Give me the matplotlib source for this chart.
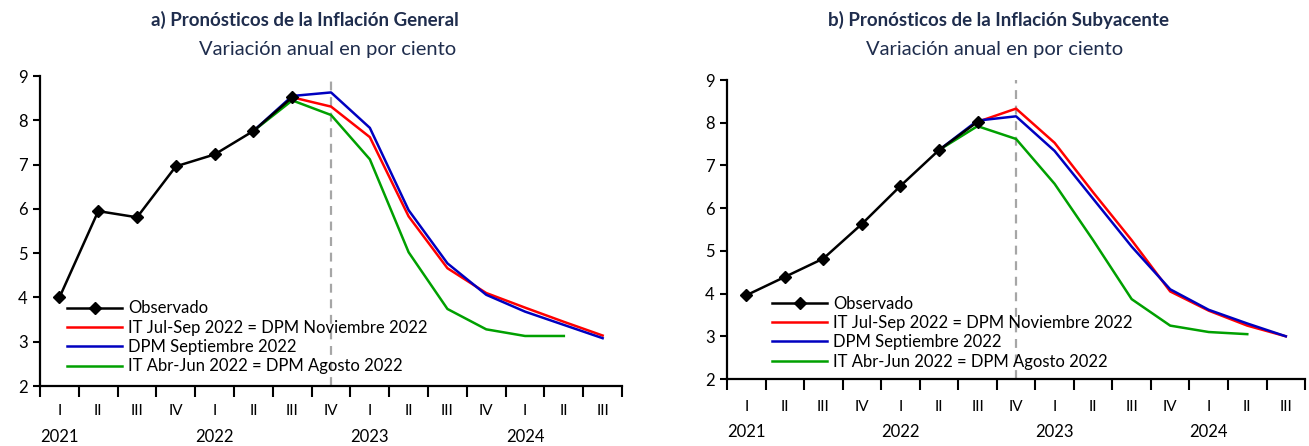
import numpy as np
import matplotlib
matplotlib.use("Agg")
import matplotlib.pyplot as plt
import matplotlib.transforms as mtransforms

plt.rcParams["font.family"] = ["Lato", "DejaVu Sans"]

# ─── Datos ────────────────────────────────────────────────────────────────────
TRIMESTRES = ["I", "II", "III", "IV", "I", "II", "III", "IV",
              "I", "II", "III", "IV", "I", "II", "III"]
ANIOS = ["2021", "2022", "2023", "2024"]
ANIO_POS = [0, 4, 8, 12]

# Inflación general
obs_gen = [4.00, 5.95, 5.81, 6.96, 7.23, 7.76, 8.52]
it_jul_gen = [8.52, 8.31, 7.62, 5.83, 4.66, 4.10, 3.77, 3.45, 3.14]      # desde III-2022
dpm_sep_gen = [7.76, 8.55, 8.63, 7.83, 5.97, 4.77, 4.06, 3.68, 3.38, 3.08]  # desde II-2022
it_abr_gen = [7.76, 8.45, 8.12, 7.12, 5.02, 3.74, 3.28, 3.13, 3.13]      # desde II-2022

# Inflación subyacente
obs_sub = [3.96, 4.39, 4.82, 5.63, 6.52, 7.36, 8.02]
it_jul_sub = [8.02, 8.33, 7.53, 6.37, 5.25, 4.05, 3.60, 3.25, 3.00]
dpm_sep_sub = [7.36, 8.05, 8.15, 7.34, 6.22, 5.10, 4.10, 3.62, 3.30, 3.00]
it_abr_sub = [7.36, 7.92, 7.62, 6.57, 5.25, 3.87, 3.25, 3.10, 3.05]

LABELS = ["Observado", "IT Jul-Sep 2022 = DPM Noviembre 2022",
          "DPM Septiembre 2022", "IT Abr-Jun 2022 = DPM Agosto 2022"]

TITLE_COLOR = "#1f2d4d"
RED, BLUE, GREEN = "#ff0000", "#0000c0", "#00a000"


def _panel(ax, obs, it_jul, dpm_sep, it_abr, ylab_off, year_off, leg_anchor):
    l_abr, = ax.plot(np.arange(5, 5 + len(it_abr)), it_abr, color=GREEN, lw=1.8, zorder=2)
    l_jul, = ax.plot(np.arange(6, 6 + len(it_jul)), it_jul, color=RED, lw=1.8, zorder=3)
    l_sep, = ax.plot(np.arange(5, 5 + len(dpm_sep)), dpm_sep, color=BLUE, lw=1.8, zorder=4)
    l_obs, = ax.plot(np.arange(len(obs)), obs, color="black", lw=1.8,
                     marker="D", ms=6, zorder=5)
    ax.axvline(7, color="#a6a6a6", lw=1.6, ls=(0, (4, 3)), zorder=1)

    ax.set_xlim(-0.5, 14.5)
    ax.set_ylim(2, 9)
    ax.set_yticks(range(2, 10))
    ax.set_xticks(np.arange(-0.5, 15, 1))
    ax.set_xticklabels([])
    ax.tick_params(axis="x", length=8, width=1.5, direction="out")
    ax.tick_params(axis="y", length=5, width=1.5, labelsize=12, pad=4)
    for s in ("top", "right"):
        ax.spines[s].set_visible(False)
    for s in ("left", "bottom"):
        ax.spines[s].set_linewidth(1.6)

    trans = mtransforms.blended_transform_factory(ax.transData, ax.transAxes)
    off = mtransforms.offset_copy(trans, fig=ax.figure, y=-ylab_off, units="dots")
    for i, t in enumerate(TRIMESTRES):
        ax.text(i, 0, t, transform=off, ha="center", va="center", fontsize=11)
    off_y = mtransforms.offset_copy(trans, fig=ax.figure, y=-year_off, units="dots")
    for p, a in zip(ANIO_POS, ANIOS):
        ax.text(p, 0, a, transform=off_y, ha="center", va="center", fontsize=12)

    ax.legend([l_obs, l_jul, l_sep, l_abr], LABELS, loc="upper left",
              bbox_to_anchor=leg_anchor, frameon=False, numpoints=1,
              fontsize=12, handlelength=3.3, handletextpad=0.35, labelspacing=0.2,
              borderaxespad=0, borderpad=0)


fig = plt.figure(figsize=(13.09, 4.46), dpi=100)
ax1 = fig.add_axes([0.0306, 0.1345, 0.4446, 0.695])
ax2 = fig.add_axes([0.5554, 0.1502, 0.4416, 0.6704])

_panel(ax1, obs_gen, it_jul_gen, dpm_sep_gen, it_abr_gen, 25, 51, (0.047, 0.276))
_panel(ax2, obs_sub, it_jul_sub, dpm_sep_sub, it_abr_sub, 28, 53, (0.078, 0.279))

fig.text(305 / 1309, 1 - 20 / 446, "a) Pronósticos de la Inflación General",
         ha="center", va="center", fontsize=13.5, fontweight="bold", color=TITLE_COLOR)
fig.text(328 / 1309, 1 - 50 / 446, "Variación anual en por ciento",
         ha="center", va="center", fontsize=14.5, color=TITLE_COLOR)
fig.text(998 / 1309, 1 - 20 / 446, "b) Pronósticos de la Inflación Subyacente",
         ha="center", va="center", fontsize=13.5, fontweight="bold", color=TITLE_COLOR)
fig.text(995 / 1309, 1 - 50 / 446, "Variación anual en por ciento",
         ha="center", va="center", fontsize=14.5, color=TITLE_COLOR)

fig.savefig("out.png", dpi=100)
plt.close(fig)
